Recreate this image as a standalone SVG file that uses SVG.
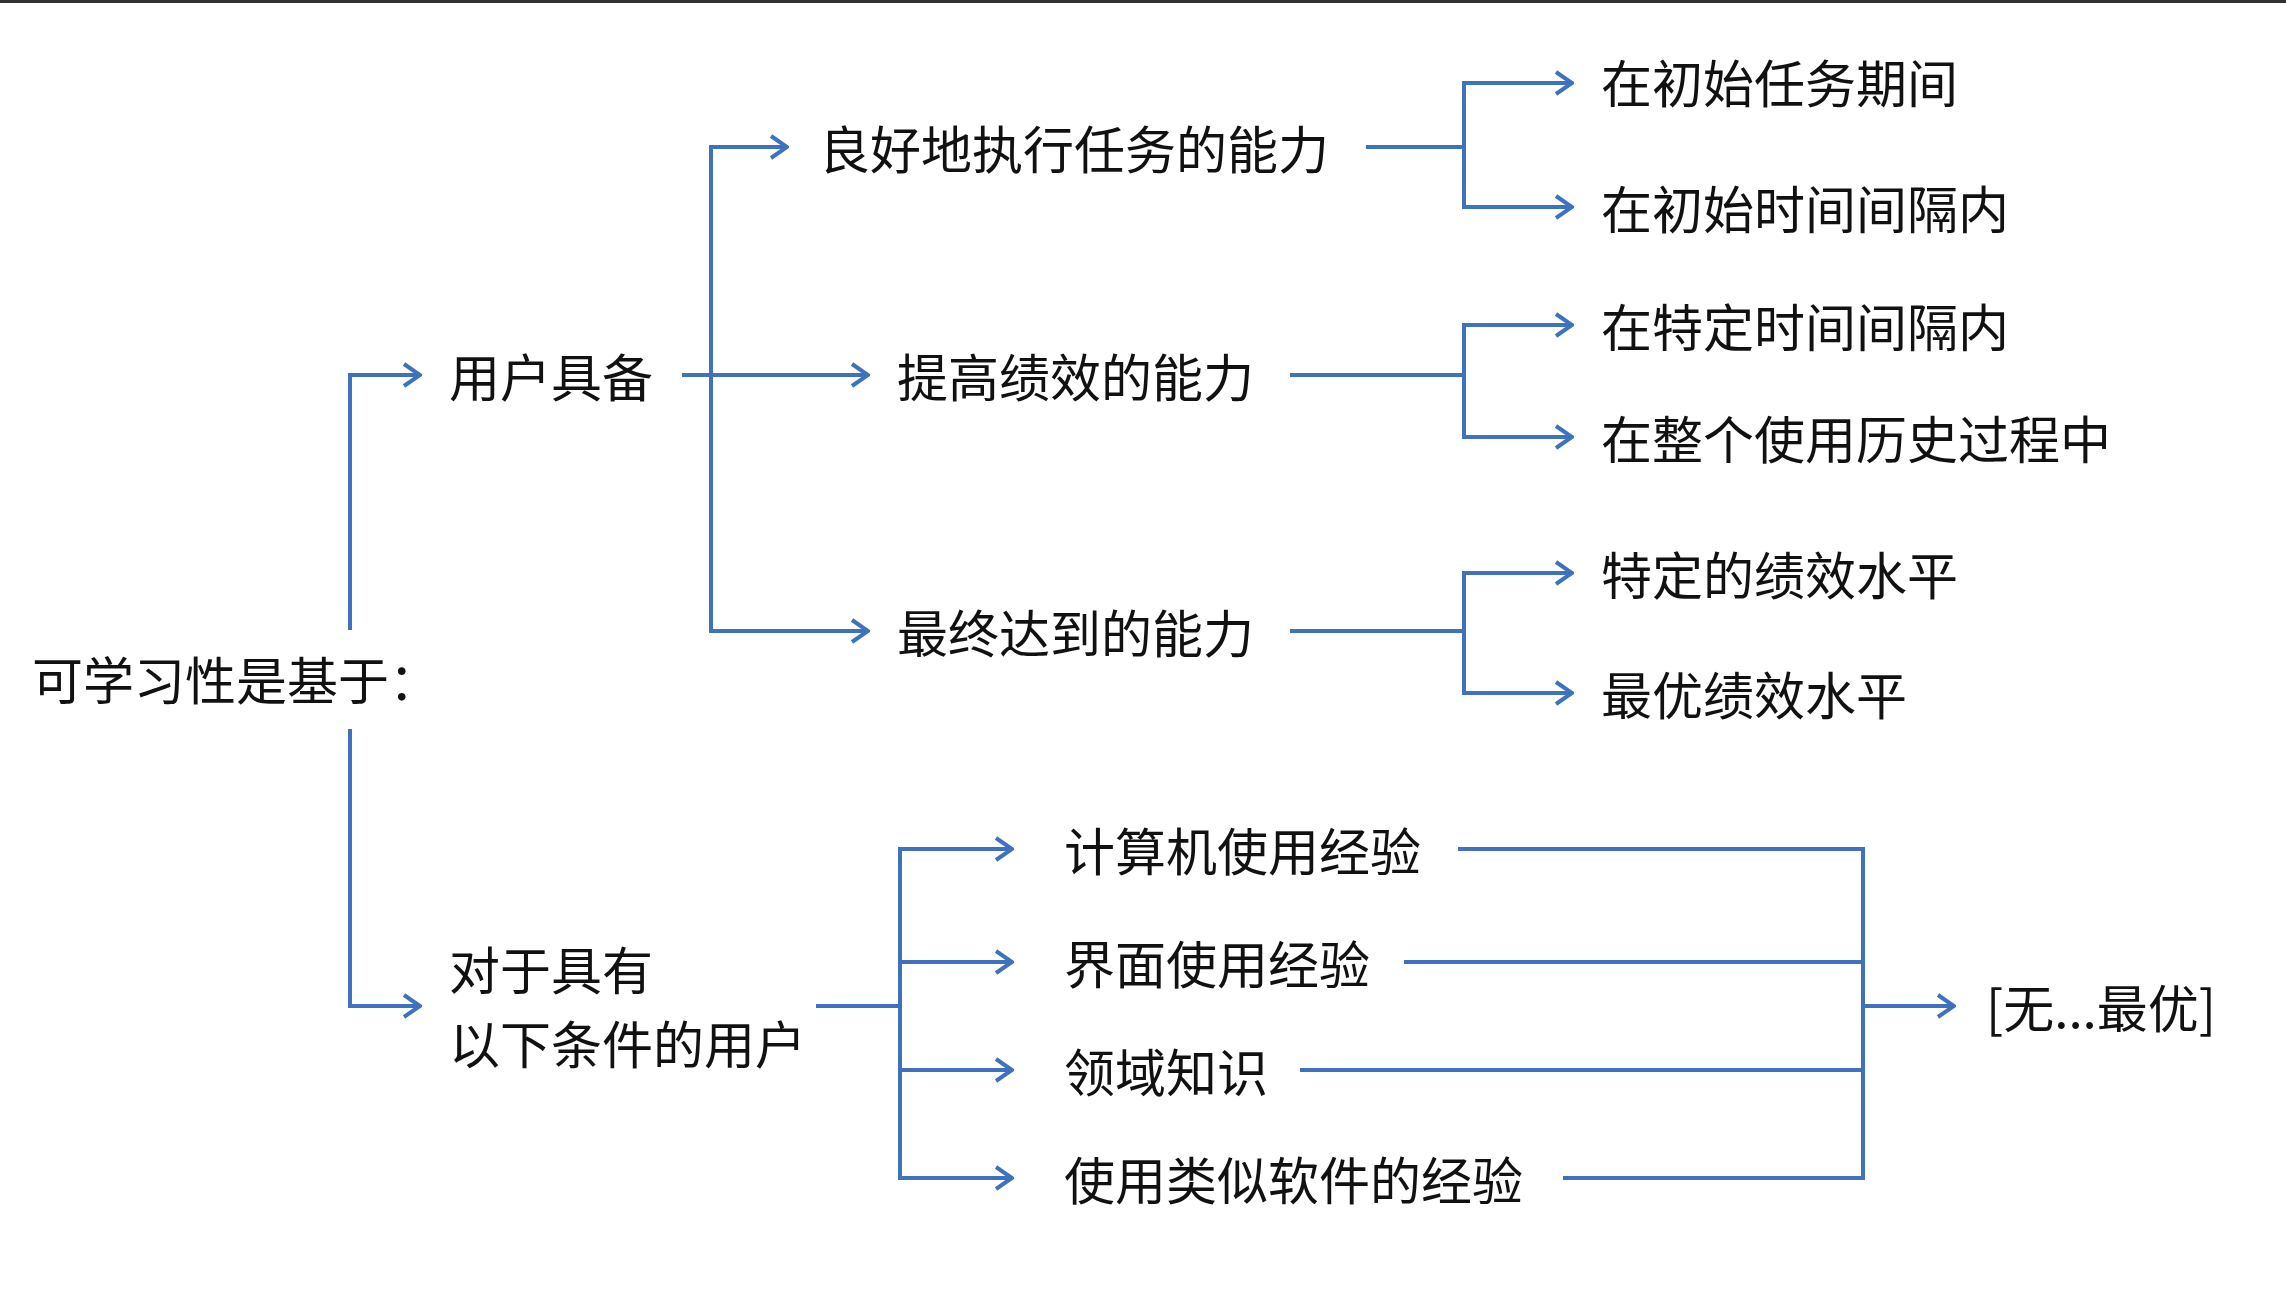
<svg xmlns="http://www.w3.org/2000/svg" width="2286" height="1290" viewBox="0 0 2286 1290">
<style>
text{font-family:"Noto Sans CJK SC","Liberation Sans",sans-serif;font-size:51px;fill:#111;dominant-baseline:central}
.c path{fill:none;stroke:#3f72bd;stroke-width:4}
</style>
<defs><marker id="a" viewBox="0 0 24 28" refX="22" refY="14" markerWidth="24" markerHeight="28" markerUnits="userSpaceOnUse" orient="auto"><path d="M6,3 L22,14 L6,25" fill="none" stroke="#3f72bd" stroke-width="4"/></marker></defs>
<rect width="2286" height="1290" fill="#fff"/>
<rect width="2286" height="3" fill="#333"/>
<g class="c">
<path d="M350,630 V375 H420" marker-end="url(#a)"/>
<path d="M350,729 V1006 H420" marker-end="url(#a)"/>
<path d="M682,375 H868" marker-end="url(#a)"/>
<path d="M711,375 V147 H787" marker-end="url(#a)"/>
<path d="M711,375 V631 H868" marker-end="url(#a)"/>
<path d="M1366,147 H1464 V83 H1572" marker-end="url(#a)"/>
<path d="M1464,147 V207 H1572" marker-end="url(#a)"/>
<path d="M1290,375 H1464 V325 H1572" marker-end="url(#a)"/>
<path d="M1464,375 V437 H1572" marker-end="url(#a)"/>
<path d="M1290,631 H1464 V573 H1572" marker-end="url(#a)"/>
<path d="M1464,631 V693 H1572" marker-end="url(#a)"/>
<path d="M816,1006 H900"/>
<path d="M900,1006 V849 H1012" marker-end="url(#a)"/>
<path d="M900,962 H1012" marker-end="url(#a)"/>
<path d="M900,1070 H1012" marker-end="url(#a)"/>
<path d="M900,1006 V1178 H1012" marker-end="url(#a)"/>
<path d="M1458,849 H1863 V1178 H1563"/>
<path d="M1404,962 H1863"/>
<path d="M1300,1070 H1863"/>
<path d="M1863,1006 H1954" marker-end="url(#a)"/>
</g>
<g id="root"><text x="32" y="678">可学习性是基于：</text></g>
<g id="n1"><text x="449" y="375">用户具备</text></g>
<g id="n2"><text x="449" y="968">对于具有</text><text x="449" y="1042">以下条件的用户</text></g>
<g id="n3"><text x="819" y="147">良好地执行任务的能力</text></g>
<g id="n4"><text x="897" y="375">提高绩效的能力</text></g>
<g id="n5"><text x="897" y="631">最终达到的能力</text></g>
<g id="n6"><text x="1601" y="81">在初始任务期间</text></g>
<g id="n7"><text x="1601" y="207">在初始时间间隔内</text></g>
<g id="n8"><text x="1601" y="325">在特定时间间隔内</text></g>
<g id="n9"><text x="1601" y="437">在整个使用历史过程中</text></g>
<g id="n10"><text x="1601" y="573">特定的绩效水平</text></g>
<g id="n11"><text x="1601" y="693">最优绩效水平</text></g>
<g id="n12"><text x="1064" y="849">计算机使用经验</text></g>
<g id="n13"><text x="1064" y="962">界面使用经验</text></g>
<g id="n14"><text x="1064" y="1070">领域知识</text></g>
<g id="n15"><text x="1064" y="1178">使用类似软件的经验</text></g>
<g id="n16"><text x="1986" y="1006">[无...最优]</text></g>
</svg>
